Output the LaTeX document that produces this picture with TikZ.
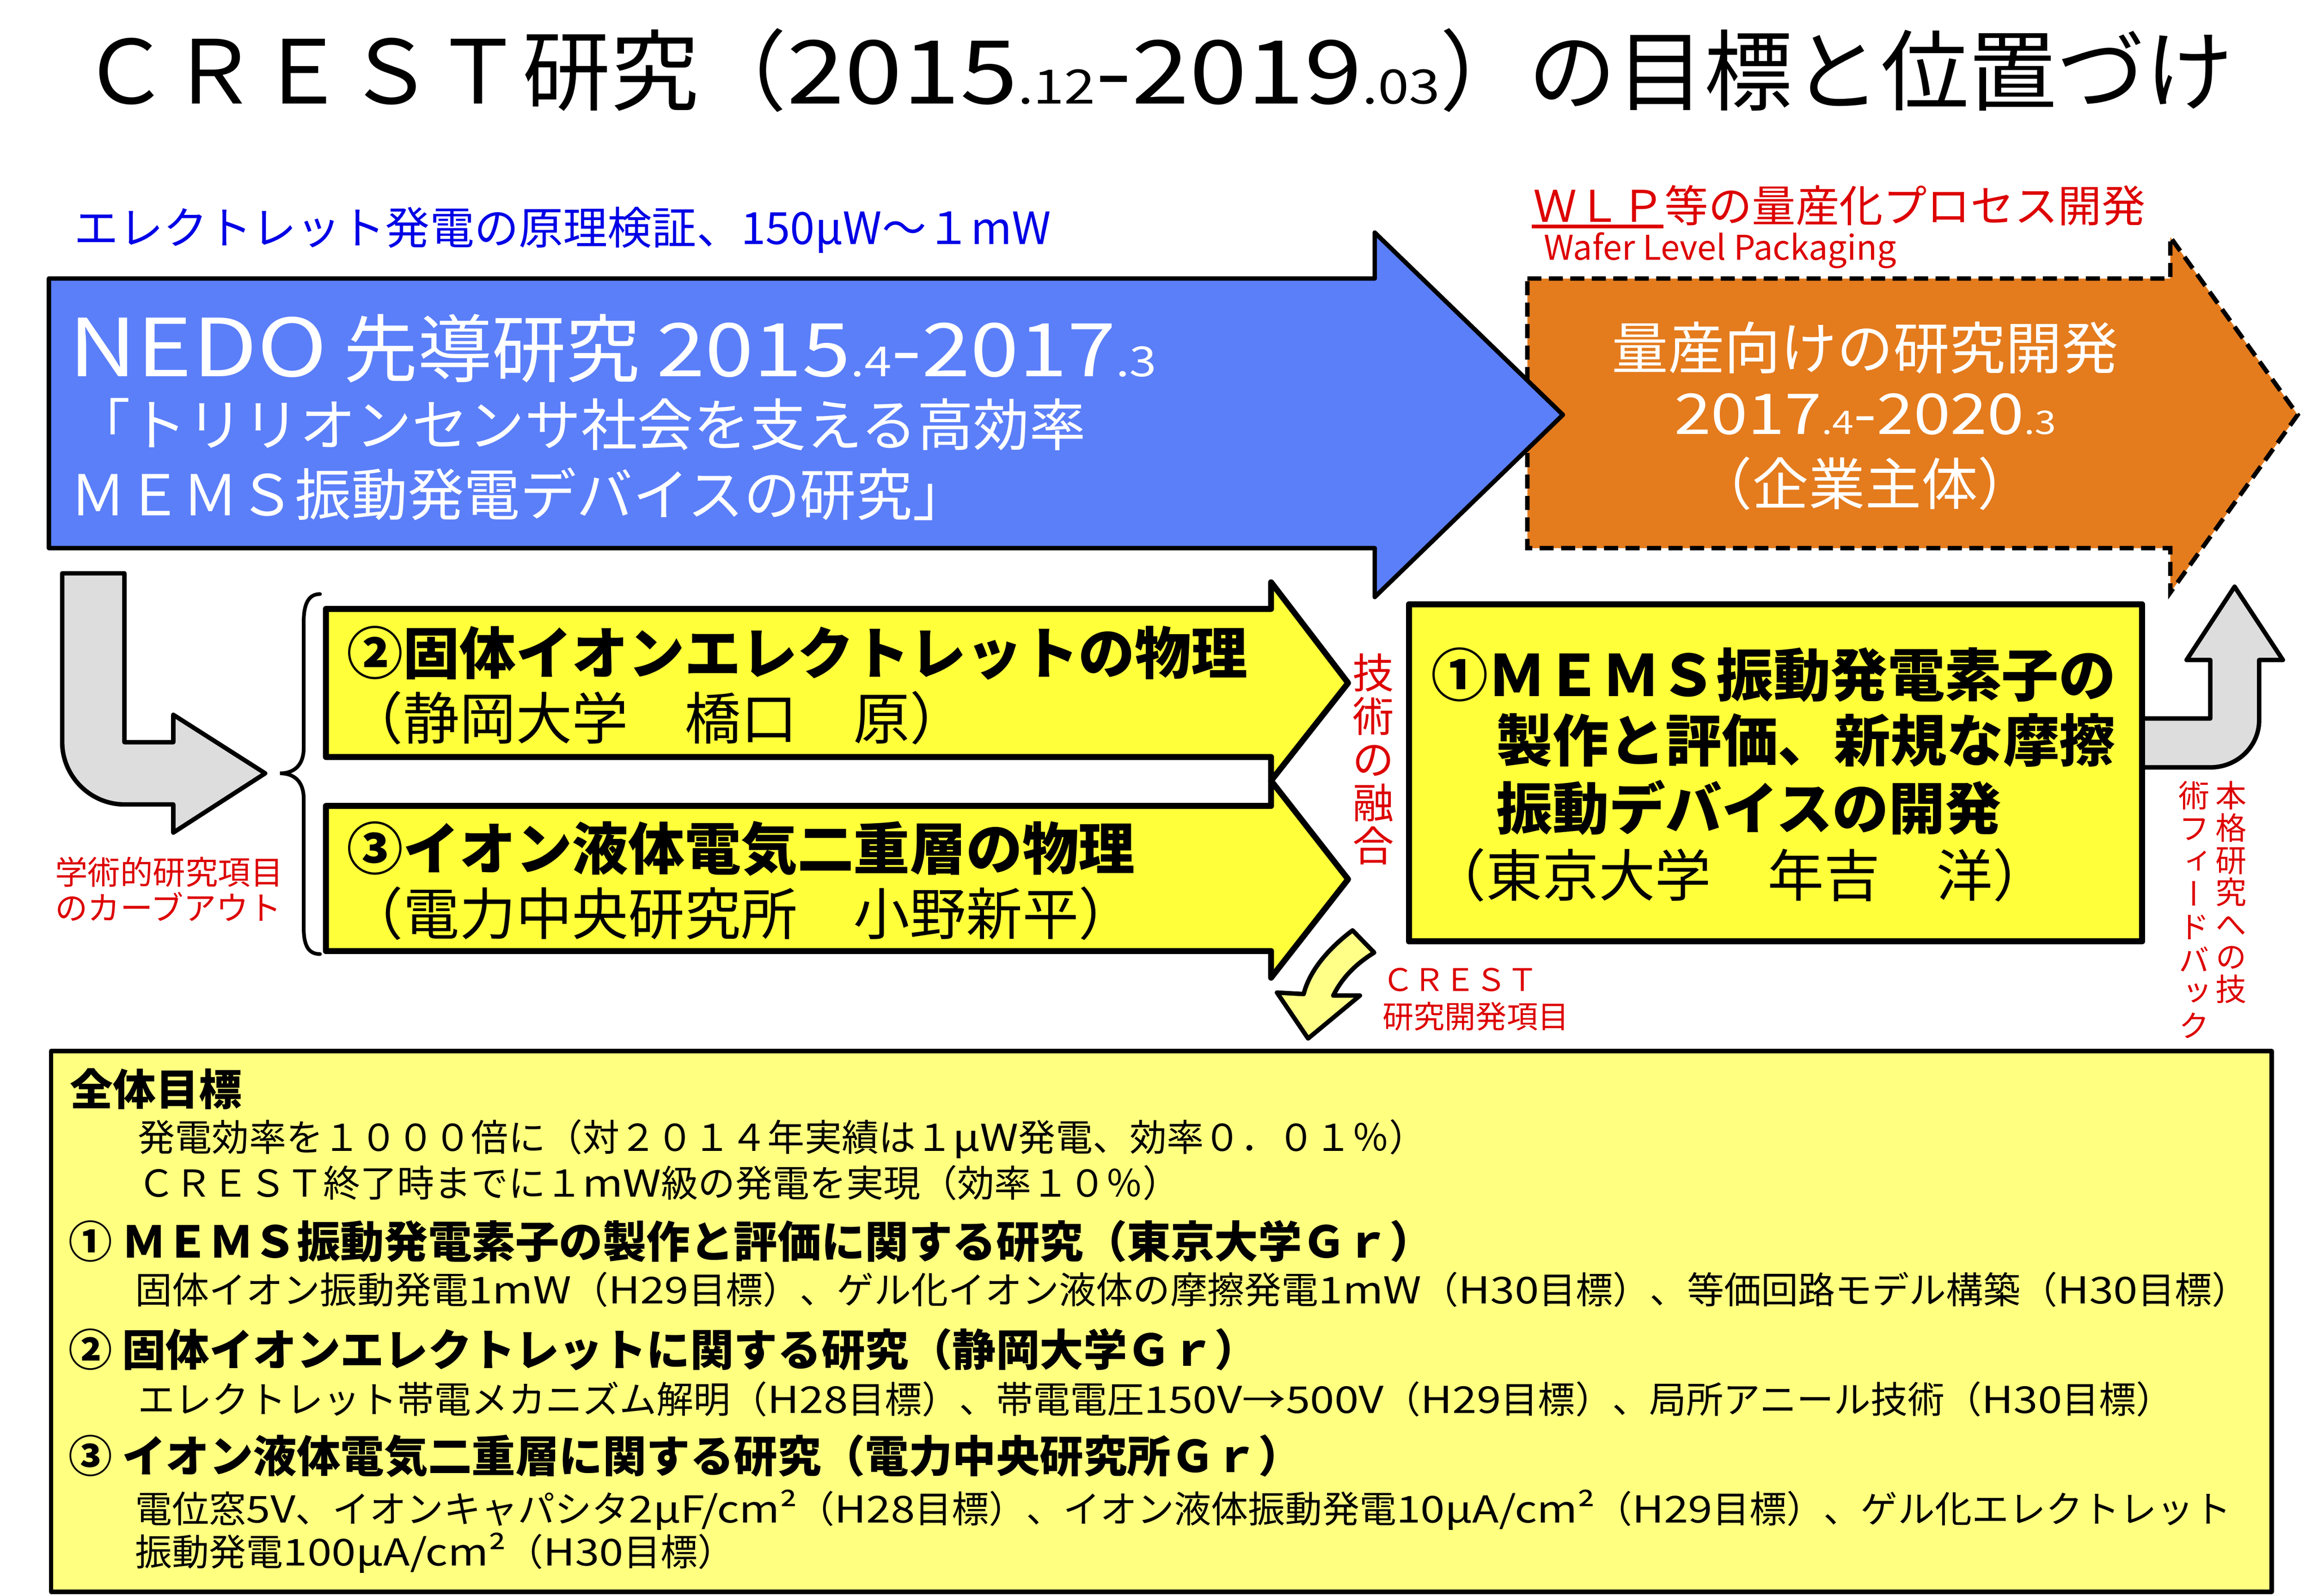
\documentclass[tikz,border=0pt]{standalone}
\usepackage{fontspec}
\setmainfont{Noto Sans CJK JP}
\newfontfamily\jpv[RawFeature=+vert]{Noto Sans CJK JP}
\newfontfamily\latf[FakeStretch=1.18]{Noto Sans CJK JP}
\newcommand\lt[1]{{\latf #1}}
\newcommand\fsz[1]{\fontsize{#1}{#1}\selectfont}
\definecolor{nedoblue}{RGB}{91,127,249}
\definecolor{massorange}{RGB}{228,123,29}
\definecolor{boxyellow}{RGB}{255,255,58}
\definecolor{paleyellow}{RGB}{255,255,128}
\definecolor{arrowyellow}{RGB}{255,255,136}
\definecolor{lightgray}{RGB}{221,221,221}
\definecolor{redtext}{RGB}{221,0,0}
\definecolor{bluetext}{RGB}{0,0,230}
\begin{document}
\begin{tikzpicture}[x=1pt,y=-1pt,
  shp/.style={draw=black,line width=3pt,line join=round},
  tx/.style={inner sep=0pt,anchor=base west},
  txc/.style={inner sep=0pt,anchor=base},
  vtx/.style={inner sep=0pt,anchor=north,align=center}]
\useasboundingbox (0,0) rectangle (1560,1077.3);
\fill[white] (0,0) rectangle (1560,1077.3);

% title
\node[tx,font=\fsz{59.5}] (title) at (55,70) {ＣＲＥＳＴ研究（\lt{2015{\fsz{32}.12}-2019{\fsz{32}.03}}）の目標と位置づけ};

% blue caption
\node[tx,font=\fsz{30},text=bluetext] (cap) at (50,165) {エレクトレット発電の原理検証、150μW～１mW};

% red caption
\node[tx,font=\fsz{29.5},text=redtext] (wlp) at (1035,150) {ＷＬＰ等の量産化プロセス開発};
\coordinate (ulA) at (1034,153);
\coordinate (ulB) at (1123,153);
\draw[redtext,line width=2.5pt] (ulA) -- (ulB);
\node[tx,font=\fsz{23},text=redtext] (wlpen) at (1042,175.5) {Wafer Level Packaging};

% orange arrow
\filldraw[shp,fill=massorange,dash pattern=on 9.5pt off 5pt,line join=miter]
  (1031,188) -- (1465,188) -- (1465,160) -- (1551,280) -- (1465,400) -- (1465,370) -- (1031,370) -- cycle;
% blue arrow
\filldraw[shp,fill=nedoblue]
  (33,188) -- (928,188) -- (928,157) -- (1055,280) -- (928,403) -- (928,370) -- (33,370) -- cycle;

\node[tx,font=\fsz{50},text=white] (nedo1) at (46,254) {\lt{\fontsize{54}{54}\selectfont NEDO} 先導研究 \lt{2015{\fsz{28}.4}-2017{\fsz{28}.3}}};
\node[tx,font=\fsz{38},text=white] (nedo2) at (50,301) {「トリリオンセンサ社会を支える高効率};
\node[tx,font=\fsz{38},text=white] (nedo3) at (47,348) {ＭＥＭＳ振動発電デバイスの研究」};

\node[txc,font=\fsz{38},text=white] (mass1) at (1259,249) {量産向けの研究開発};
\node[txc,font=\fsz{38},text=white] (mass2) at (1259,293) {\lt{2017{\fsz{22}.4}-2020{\fsz{22}.3}}};
\node[txc,font=\fsz{38},text=white] (mass3) at (1259,341) {（企業主体）};

% left gray bent arrow
\filldraw[shp,fill=lightgray]
  (42,387) -- (84,387) -- (84,501) -- (117,501) -- (117,482.5) -- (179,522) -- (117,562) -- (117,543) -- (84,543)
  .. controls (61,543) and (42,524) .. (42,501) -- cycle;

\node[tx,font=\fsz{22},text=redtext] (carve1) at (37,597) {学術的研究項目};
\node[tx,font=\fsz{22},text=redtext] (carve2) at (37,621) {のカーブアウト};

% brace
\draw[black,line width=2.5pt,line cap=round]
  (216,401) .. controls (208,401) and (205,408) .. (205,420) -- (205,505)
  .. controls (205,516) and (199,522) .. (189,522)
  .. controls (199,522) and (205,528) .. (205,539) -- (205,626)
  .. controls (205,638) and (208,644) .. (216,644);

% yellow arrows
\filldraw[shp,fill=boxyellow,line width=4pt]
  (220,411) -- (858,411) -- (858,393) -- (910,461) -- (858,527) -- (858,511) -- (220,511) -- cycle;
\filldraw[shp,fill=boxyellow,line width=4pt]
  (220,544) -- (858,544) -- (858,527) -- (910,593.5) -- (858,660) -- (858,642) -- (220,642) -- cycle;

\node[tx,font=\bfseries\fsz{38}] (p2a) at (234,455) {②固体イオンエレクトレットの物理};
\node[tx,font=\fsz{38}] (p2b) at (234,499) {（静岡大学　橋口　原）};
\node[tx,font=\bfseries\fsz{38}] (p3a) at (234,587) {③イオン液体電気二重層の物理};
\node[tx,font=\fsz{38}] (p3b) at (234,631) {（電力中央研究所　小野新平）};

% vertical red text
\node[vtx,font=\fontsize{28}{29.2}\selectfont,text=redtext] (fusion) at (927,441) {技\\術\\の\\融\\合};

% right gray up arrow
\filldraw[shp,fill=lightgray]
  (1440,485) -- (1492,485) -- (1492,445.5) -- (1476,445.5) -- (1508.4,396) -- (1541,445.5) -- (1525,445.5) -- (1525,486)
  .. controls (1525,504) and (1510,518) .. (1492,518) -- (1440,518) -- cycle;

% box 1
\filldraw[shp,fill=boxyellow,line width=4pt] (951,408) rectangle (1446,635.5);
\node (box1) at (1199,522) {};
\node[tx,font=\bfseries\fsz{38.5}] (b1a) at (966,470) {①ＭＥＭＳ振動発電素子の};
\node[tx,font=\bfseries\fsz{38}] (b1b) at (1010,514) {製作と評価、新規な摩擦};
\node[tx,font=\bfseries\fsz{38}] (b1c) at (1010,560) {振動デバイスの開発};
\node[tx,font=\fsz{38}] (b1d) at (965,605) {（東京大学　年吉　洋）};

% right vertical red text
\node[vtx,font=\jpv\fontsize{21}{21.8}\selectfont,text=redtext] (fb1) at (1506,527) {本\\格\\研\\究\\へ\\の\\技};
\node[vtx,font=\jpv\fontsize{21}{22.2}\selectfont,text=redtext] (fb2) at (1481,527) {術\\フ\\ィ\\ー\\ド\\バ\\ッ\\ク};

% small yellow arrow
\filldraw[shp,fill=arrowyellow]
  (913,628) .. controls (897,640) and (884,655) .. (880,671) -- (862,670) -- (883,701) -- (918,672) -- (900,672)
  .. controls (905,662) and (913,652) .. (927.6,643) -- cycle;

\node[tx,font=\fsz{21},text=redtext] (cr1) at (933,669) {ＣＲＥＳＴ};
\node[tx,font=\fsz{21},text=redtext] (cr2) at (933,694) {研究開発項目};

% bottom box
\filldraw[shp,fill=paleyellow] (34.5,709.5) rectangle (1533.5,1074.5);
\node[tx,font=\bfseries\fsz{29}] (g0) at (47,746) {全体目標};
\node[tx,font=\fsz{25}] (g1) at (93,777) {発電効率を１０００倍に（対２０１４年実績は１\lt{μW}発電、効率０．０１％）};
\node[tx,font=\fsz{25}] (g2) at (93,808) {ＣＲＥＳＴ終了時までに１\lt{mW}級の発電を実現（効率１０％）};
\node[tx,font=\bfseries\fsz{29.5}] (g3) at (46,849) {① ＭＥＭＳ振動発電素子の製作と評価に関する研究（東京大学Ｇｒ）};
\node[tx,font=\fsz{25}] (g4) at (91,880) {固体イオン振動発電\lt{1mW}（\lt{H29}目標）、ゲル化イオン液体の摩擦発電\lt{1mW}（\lt{H30}目標）、等価回路モデル構築（\lt{H30}目標）};
\node[tx,font=\bfseries\fsz{29.5}] (g5) at (46,922) {② 固体イオンエレクトレットに関する研究（静岡大学Ｇｒ）};
\node[tx,font=\fsz{25}] (g6) at (93,954) {エレクトレット帯電メカニズム解明（\lt{H28}目標）、帯電電圧\lt{150V→500V}（\lt{H29}目標）、局所アニール技術（\lt{H30}目標）};
\node[tx,font=\bfseries\fsz{29.5}] (g7) at (46,994) {③ イオン液体電気二重層に関する研究（電力中央研究所Ｇｒ）};
\node[tx,font=\fsz{25}] (g8) at (91,1028) {電位窓\lt{5V}、イオンキャパシタ\lt{2μF/cm²}（\lt{H28}目標）、イオン液体振動発電\lt{10μA/cm²}（\lt{H29}目標）、ゲル化エレクトレット};
\node[tx,font=\fsz{25}] (g9) at (91,1057) {振動発電\lt{100μA/cm²}（\lt{H30}目標）};
\end{tikzpicture}
\end{document}
